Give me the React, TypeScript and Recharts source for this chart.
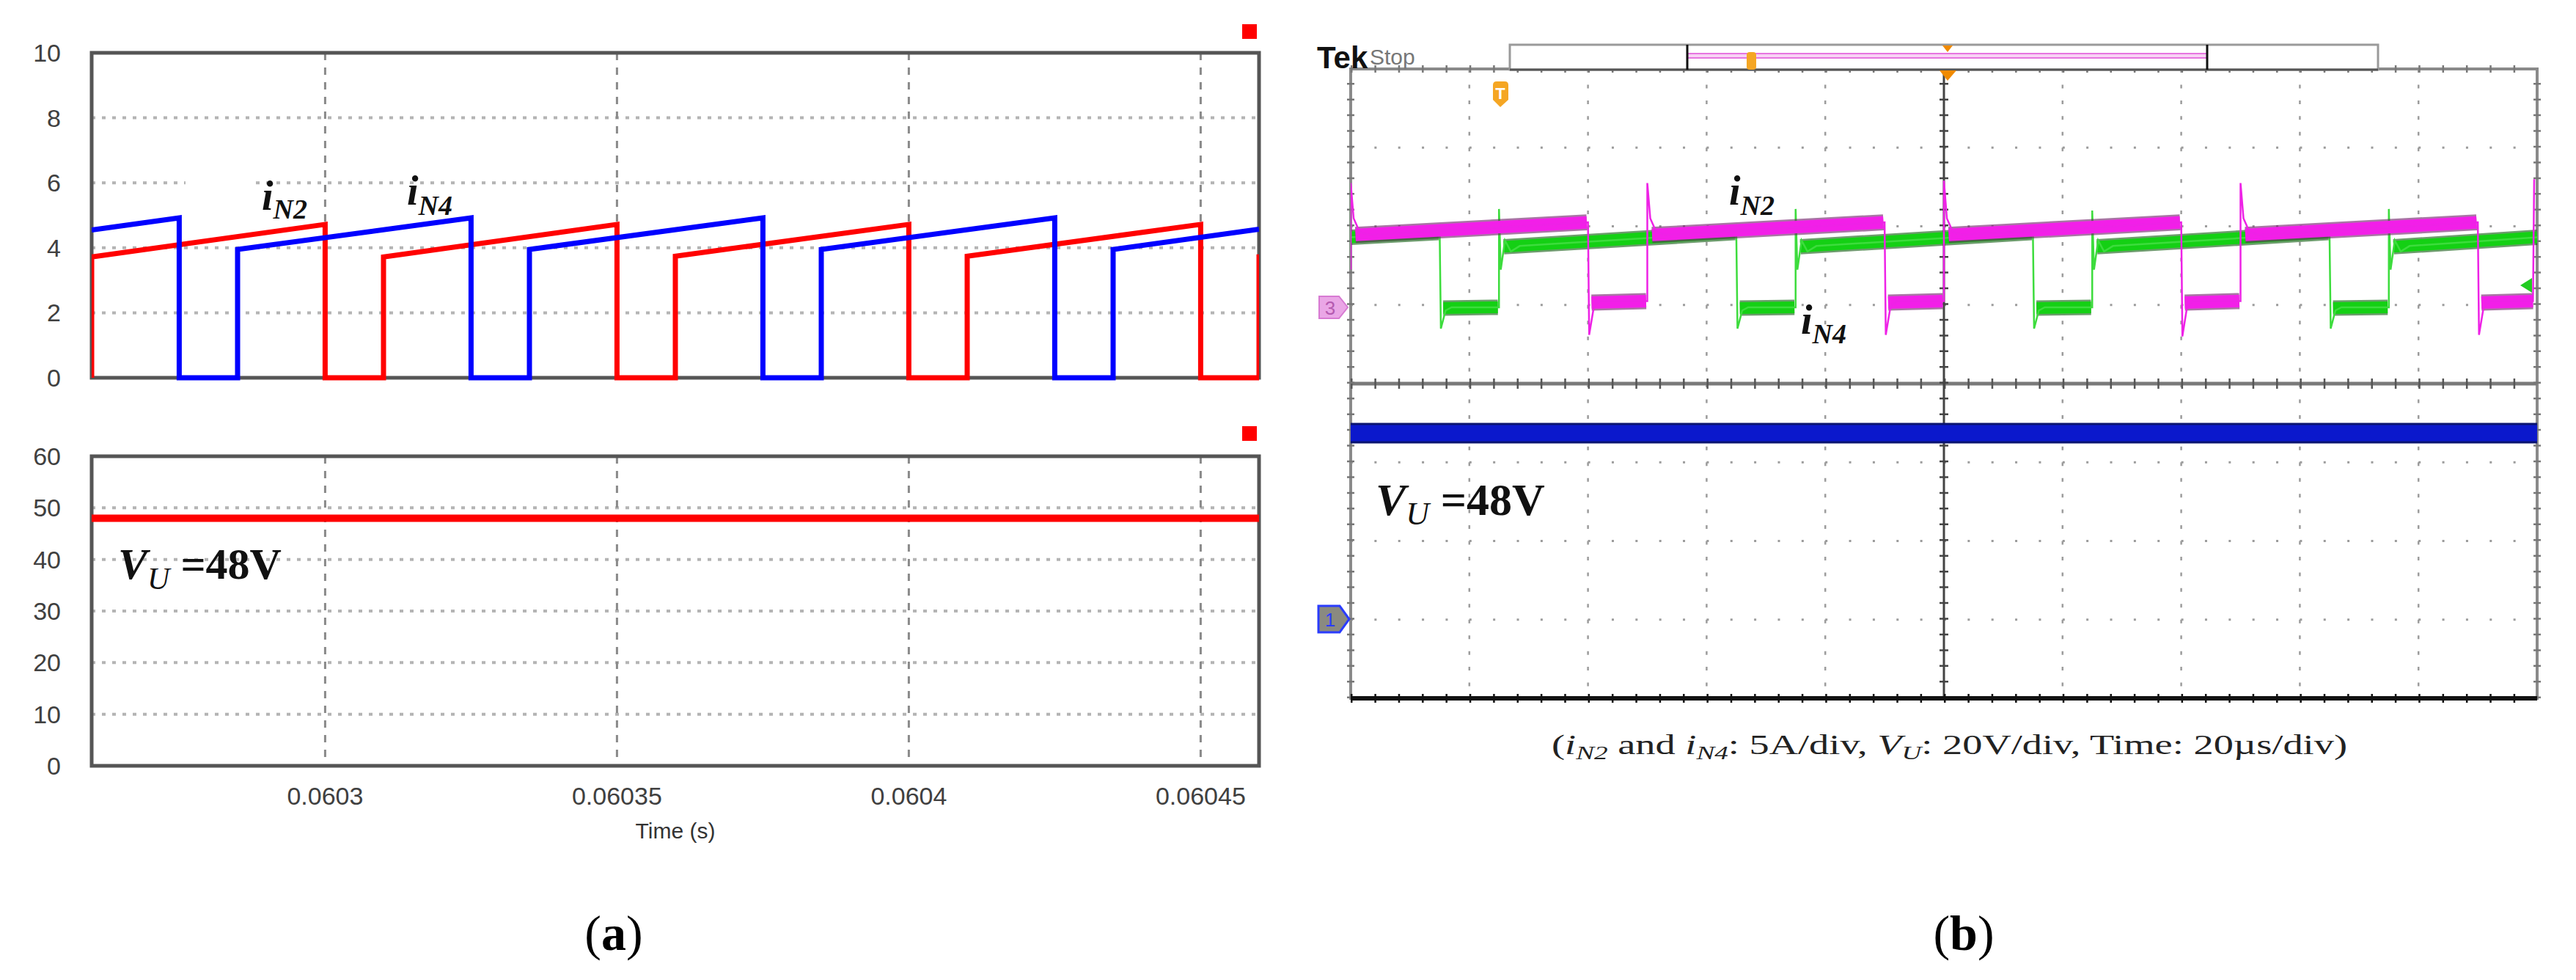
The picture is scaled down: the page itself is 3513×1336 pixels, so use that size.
import React from "react";
import {
  CartesianGrid,
  Line,
  LineChart,
  ReferenceArea,
  ReferenceLine,
  XAxis,
  YAxis,
} from "recharts";

// ---------- (a) simulation, time in seconds ----------
const SIM_T_MIN = 0.06026;
const SIM_T_MAX = 0.06046;
const SIM_T_TICKS = [0.0603, 0.06035, 0.0604, 0.06045];
const SIM_I_TICKS = [0, 2, 4, 6, 8, 10];
const SIM_V_TICKS = [0, 10, 20, 30, 40, 50, 60];

// iN2 (red): corners of the waveform [t, A]
const SIM_N2: [number, number][] = [
  [0.06026, 0], [0.06026, 3.72], [0.0603, 4.72], [0.0603, 0],
  [0.06031, 0], [0.06031, 3.72], [0.06035, 4.72], [0.06035, 0],
  [0.06036, 0], [0.06036, 3.74], [0.0604, 4.72], [0.0604, 0],
  [0.06041, 0], [0.06041, 3.74], [0.06045, 4.72], [0.06045, 0],
  [0.06046, 0], [0.06046, 3.8],
];
// iN4 (blue)
const SIM_N4: [number, number][] = [
  [0.06026, 4.55], [0.060275, 4.92], [0.060275, 0],
  [0.060285, 0], [0.060285, 3.95], [0.060325, 4.92], [0.060325, 0],
  [0.060335, 0], [0.060335, 3.95], [0.060375, 4.92], [0.060375, 0],
  [0.060385, 0], [0.060385, 3.95], [0.060425, 4.92], [0.060425, 0],
  [0.060435, 0], [0.060435, 3.95], [0.06046, 4.57],
];
// VU (red, bottom plot)
const SIM_VU: [number, number][] = [
  [0.06026, 48], [0.06046, 48],
];

// ---------- (b) scope, time in µs (20 µs/div), level in screen divisions ----------
const SCOPE_T_MIN = 0;
const SCOPE_T_MAX = 200;
const SCOPE_GRID_T = [20, 40, 60, 80, 120, 140, 160, 180];
const SCOPE_GRID_Y = [-3, -2, -1, 1, 2, 3];

// channel 3, iN2 (magenta): thin trace with edges and ringing
const CH3_TRACE: [number, number][] = [
  [0, 1.45], [0, 2.55], [0.5, 2.1], [1.5, 1.93], [3, 1.89], [40, 2.05],
  [40.2, 0.62], [41, 0.98], [42, 1.05], [50, 1.05],
  [50, 2.55], [50.5, 2.1], [51.5, 1.93], [53, 1.89], [90, 2.05],
  [90.2, 0.62], [91, 0.98], [92, 1.05], [100, 1.05],
  [100, 2.58], [100.5, 2.1], [101.5, 1.93], [103, 1.89], [140, 2.05],
  [140.2, 0.6], [141, 0.98], [142, 1.05], [150, 1.05],
  [150, 2.55], [150.5, 2.1], [151.5, 1.93], [153, 1.89], [190, 2.05],
  [190.2, 0.62], [191, 0.98], [192, 1.05], [199.3, 1.05], [199.5, 2.6],
];
// channel 3 noise band (null breaks the band at each edge)
const CH3_BAND: [number, number | null][] = [
  [0.8, 1.89], [39.8, 2.05], [40.2, null], [40.6, 1.03], [49.8, 1.05], [50.2, null],
  [50.8, 1.89], [89.8, 2.05], [90.2, null], [90.6, 1.03], [99.8, 1.05], [100.2, null],
  [100.8, 1.89], [139.8, 2.05], [140.2, null], [140.6, 1.03], [149.8, 1.05], [150.2, null],
  [150.8, 1.89], [189.8, 2.05], [190.2, null], [190.6, 1.03], [199.3, 1.05],
];

// channel 2, iN4 (green)
const CH2_TRACE: [number, number][] = [
  [0, 1.86], [15, 1.92], [15.2, 0.7], [16, 0.93], [17, 0.97], [25, 0.97],
  [25, 2.22], [25.3, 1.45], [26, 1.82], [27, 1.68], [28.5, 1.75], [65, 1.92],
  [65.2, 0.7], [66, 0.93], [67, 0.97], [75, 0.97],
  [75, 2.22], [75.3, 1.45], [76, 1.82], [77, 1.68], [78.5, 1.75], [115, 1.92],
  [115.2, 0.7], [116, 0.93], [117, 0.97], [125, 0.97],
  [125, 2.2], [125.3, 1.45], [126, 1.82], [127, 1.68], [128.5, 1.75], [165, 1.92],
  [165.2, 0.7], [166, 0.93], [167, 0.97], [175, 0.97],
  [175, 2.22], [175.3, 1.45], [176, 1.82], [177, 1.68], [178.5, 1.75], [200, 1.86],
];
const CH2_BAND: [number, number | null][] = [
  [0, 1.86], [14.8, 1.92], [15.2, null], [15.6, 0.96], [24.8, 0.97], [25.2, null],
  [25.8, 1.74], [64.8, 1.92], [65.2, null], [65.6, 0.96], [74.8, 0.97], [75.2, null],
  [75.8, 1.74], [114.8, 1.92], [115.2, null], [115.6, 0.96], [124.8, 0.97], [125.2, null],
  [125.8, 1.74], [164.8, 1.92], [165.2, null], [165.6, 0.96], [174.8, 0.97], [175.2, null],
  [175.8, 1.74], [200, 1.86],
];

// channel 1, VU (blue), ground marker at -3 div, 20 V/div
const CH1_BAND: [number, number][] = [
  [0, -0.63], [200, -0.63],
];

const SERIF = "'Liberation Serif', 'Times New Roman', serif";
const SANS = "'Liberation Sans', Arial, sans-serif";
const TICK = { fill: "#404040", fontSize: 34, fontFamily: SANS };

const pts = (rows: [number, number | null][]) => rows.map(([t, y]) => ({ t, y }));

// scope screen size (px) -> minor tick spacing for dotted graticule
const SCOPE_W = 1618;
const SCOPE_H = 858;
const MINOR_X = SCOPE_W / 50;
const MINOR_Y = SCOPE_H / 40;

function SimCurrents() {
  return (
    <LineChart width={1760} height={560} margin={{ top: 72, right: 43, bottom: 45, left: 0 }}>
      <XAxis type="number" dataKey="t" domain={[SIM_T_MIN, SIM_T_MAX]} ticks={SIM_T_TICKS} allowDataOverflow hide />
      <YAxis
        type="number"
        domain={[0, 10]}
        ticks={SIM_I_TICKS}
        interval={0}
        width={125}
        tick={TICK}
        tickLine={false}
        axisLine={false}
        tickMargin={36}
      />
      <CartesianGrid horizontalValues={SIM_I_TICKS} vertical={false} stroke="#b4b4b4" strokeWidth={4} strokeDasharray="5 9" />
      <CartesianGrid verticalValues={SIM_T_TICKS} horizontal={false} stroke="#8a8a8a" strokeWidth={3} strokeDasharray="10 10" />
      <ReferenceArea x1={SIM_T_MIN} x2={SIM_T_MAX} y1={0} y2={10} fillOpacity={0} stroke="#555" strokeWidth={5} ifOverflow="visible" />
      <Line data={pts(SIM_N2)} dataKey="y" type="linear" stroke="#ff0000" strokeWidth={7} dot={false} activeDot={false} isAnimationActive={false} />
      <Line data={pts(SIM_N4)} dataKey="y" type="linear" stroke="#0000ff" strokeWidth={7} dot={false} activeDot={false} isAnimationActive={false} />
    </LineChart>
  );
}

function SimVoltage() {
  return (
    <LineChart width={1760} height={600} margin={{ top: 62, right: 43, bottom: 0, left: 0 }}>
      <XAxis
        type="number"
        dataKey="t"
        domain={[SIM_T_MIN, SIM_T_MAX]}
        ticks={SIM_T_TICKS}
        interval={0}
        allowDataOverflow
        height={116}
        tick={TICK}
        tickFormatter={(v: number) => String(v)}
        tickLine={false}
        axisLine={false}
        tickMargin={23}
        label={{ value: "Time (s)", position: "insideBottom", offset: 17, fill: "#333", fontSize: 30, fontFamily: SANS }}
      />
      <YAxis
        type="number"
        domain={[0, 60]}
        ticks={SIM_V_TICKS}
        interval={0}
        width={125}
        tick={TICK}
        tickLine={false}
        axisLine={false}
        tickMargin={36}
      />
      <CartesianGrid horizontalValues={SIM_V_TICKS} vertical={false} stroke="#b4b4b4" strokeWidth={4} strokeDasharray="5 9" />
      <CartesianGrid verticalValues={SIM_T_TICKS} horizontal={false} stroke="#8a8a8a" strokeWidth={3} strokeDasharray="10 10" />
      <ReferenceArea x1={SIM_T_MIN} x2={SIM_T_MAX} y1={0} y2={60} fillOpacity={0} stroke="#555" strokeWidth={5} ifOverflow="visible" />
      <Line data={pts(SIM_VU)} dataKey="y" type="linear" stroke="#ff0000" strokeWidth={10} dot={false} activeDot={false} isAnimationActive={false} />
    </LineChart>
  );
}

function Scope() {
  const edgeTicksV = `2.5 ${MINOR_Y - 2.5}`;
  const edgeTicksH = `2.5 ${MINOR_X - 2.5}`;
  return (
    <LineChart width={1763} height={1000} margin={{ top: 94, right: 53, bottom: 48, left: 92 }}>
      <XAxis type="number" dataKey="t" domain={[SCOPE_T_MIN, SCOPE_T_MAX]} allowDataOverflow hide />
      <YAxis type="number" domain={[-4, 4]} allowDataOverflow hide />
      <CartesianGrid horizontalValues={SCOPE_GRID_Y} vertical={false} stroke="#9c9c9c" strokeWidth={3} strokeDasharray={`3 ${MINOR_X - 3}`} />
      <CartesianGrid verticalValues={SCOPE_GRID_T} horizontal={false} stroke="#9c9c9c" strokeWidth={2.5} strokeDasharray={`5 ${MINOR_Y - 5}`} />
      <ReferenceArea x1={SCOPE_T_MIN} x2={SCOPE_T_MAX} y1={-4} y2={4} fillOpacity={0} stroke="#8a8a8a" strokeWidth={4} ifOverflow="visible" />
      <ReferenceLine y={0} stroke="#7a7a7a" strokeWidth={5} />
      <ReferenceLine y={0} stroke="#555" strokeWidth={14} strokeDasharray={edgeTicksH} />
      <ReferenceLine x={100} stroke="#444" strokeWidth={3} />
      <ReferenceLine x={100} stroke="#444" strokeWidth={12} strokeDasharray={edgeTicksV} />
      <ReferenceLine x={0} stroke="#777" strokeWidth={10} strokeDasharray={edgeTicksV} />
      <ReferenceLine x={200} stroke="#777" strokeWidth={10} strokeDasharray={edgeTicksV} />
      <ReferenceLine y={4} stroke="#777" strokeWidth={10} strokeDasharray={edgeTicksH} />
      <ReferenceLine y={-4} stroke="#111" strokeWidth={6} />
      <ReferenceLine y={-4} stroke="#111" strokeWidth={12} strokeDasharray={edgeTicksH} />

      <Line data={pts(CH1_BAND)} dataKey="y" type="linear" stroke="#0a1470" strokeWidth={28} dot={false} activeDot={false} isAnimationActive={false} />
      <Line data={pts(CH1_BAND)} dataKey="y" type="linear" stroke="#0b18cc" strokeWidth={22} dot={false} activeDot={false} isAnimationActive={false} />

      <Line data={pts(CH2_BAND)} dataKey="y" type="linear" stroke="#0b5a0b" strokeWidth={21} strokeOpacity={0.6} dot={false} activeDot={false} isAnimationActive={false} />
      <Line data={pts(CH2_BAND)} dataKey="y" type="linear" stroke="#14d014" strokeWidth={16} dot={false} activeDot={false} isAnimationActive={false} />
      <Line data={pts(CH2_TRACE)} dataKey="y" type="linear" stroke="#3ddc3d" strokeWidth={2.5} dot={false} activeDot={false} isAnimationActive={false} />

      <Line data={pts(CH3_BAND)} dataKey="y" type="linear" stroke="#6e1a68" strokeWidth={22} strokeOpacity={0.6} dot={false} activeDot={false} isAnimationActive={false} />
      <Line data={pts(CH3_BAND)} dataKey="y" type="linear" stroke="#f21fe8" strokeWidth={17} dot={false} activeDot={false} isAnimationActive={false} />
      <Line data={pts(CH3_TRACE)} dataKey="y" type="linear" stroke="#ee22e6" strokeWidth={2.5} dot={false} activeDot={false} isAnimationActive={false} />
    </LineChart>
  );
}

function Overlay() {
  const sub = (size: number) => ({ fontSize: size });
  return (
    <svg width={3513} height={1336} style={{ position: "absolute", left: 0, top: 0, pointerEvents: "none" }}>
      {/* simulator legend squares */}
      <rect x={1694} y={33} width={20} height={20} fill="#ff0000" />
      <rect x={1694} y={581} width={20} height={20} fill="#ff0000" />

      {/* (a) labels; the original label box leaves a gap in the 6 A gridline */}
      <rect x={253} y={243} width={90} height={12} fill="#fff" />
      <text x={357} y={286} fontFamily={SERIF} fontWeight="bold" fontStyle="italic" fontSize={56} fill="#111">
        i<tspan {...sub(38)} dy={12}>N2</tspan>
      </text>
      <text x={555} y={279} fontFamily={SERIF} fontWeight="bold" fontStyle="italic" fontSize={56} fill="#111">
        i<tspan {...sub(38)} dy={14}>N4</tspan>
      </text>
      <text x={161} y={789} fontFamily={SERIF} fontWeight="bold" fontSize={60} fill="#111">
        <tspan fontStyle="italic">V</tspan>
        <tspan fontStyle="italic" fontWeight="normal" fontSize={42} dy={14}>U</tspan>
        <tspan dy={-14}>{" =48V"}</tspan>
      </text>

      {/* scope header */}
      <text x={1796} y={93} fontFamily={SANS} fontWeight="bold" fontSize={42} fill="#111">Tek</text>
      <text x={1868} y={88} fontFamily={SANS} fontSize={30} fill="#777">Stop</text>
      <rect x={2059} y={61} width={1184} height={34} fill="#fff" stroke="#9a9a9a" strokeWidth={3} />
      <line x1={2059} y1={95} x2={3243} y2={95} stroke="#555" strokeWidth={3} />
      <rect x={2301} y={73} width={709} height={6} fill="#f8d2f4" stroke="#e050d8" strokeWidth={1.5} />
      <line x1={2301} y1={61} x2={2301} y2={95} stroke="#111" strokeWidth={3} />
      <line x1={3010} y1={61} x2={3010} y2={95} stroke="#111" strokeWidth={3} />
      <rect x={2382} y={71} width={13} height={24} rx={4} fill="#f5a623" />
      <path d="M2649,62 L2663,62 L2656,71 Z" fill="#f08a00" />
      <path d="M2645,96 L2668,96 L2656,110 Z" fill="#f08a00" />

      {/* trigger marker */}
      <path d="M2036,116 Q2036,111 2041,111 L2052,111 Q2057,111 2057,116 L2057,136 L2046,146 L2036,136 Z" fill="#f5a623" />
      <text x={2046} y={135} textAnchor="middle" fontFamily={SANS} fontWeight="bold" fontSize={22} fill="#fff">T</text>

      {/* channel markers */}
      <path d="M1799,404 L1826,404 L1838,419 L1826,434 L1799,434 Z" fill="#eaa6e6" stroke="#d77ad2" strokeWidth={2} />
      <text x={1814} y={429} textAnchor="middle" fontFamily={SANS} fontSize={26} fill="#b55ab0">3</text>
      <path d="M1798,826 L1827,826 L1840,844 L1827,862 L1798,862 Z" fill="#8a8a80" stroke="#2a3cff" strokeWidth={3} />
      <text x={1814} y={854} textAnchor="middle" fontFamily={SANS} fontSize={26} fill="#2a3cff">1</text>
      <path d="M3437,389 L3453,379 L3453,399 Z" fill="#22cc22" />

      {/* (b) labels */}
      <text x={2358} y={279} fontFamily={SERIF} fontWeight="bold" fontStyle="italic" fontSize={56} fill="#111">
        i<tspan {...sub(38)} dy={14}>N2</tspan>
      </text>
      <text x={2456} y={455} fontFamily={SERIF} fontWeight="bold" fontStyle="italic" fontSize={56} fill="#111">
        i<tspan {...sub(38)} dy={13}>N4</tspan>
      </text>
      <text x={1876} y={702} fontFamily={SERIF} fontWeight="bold" fontSize={62} fill="#111">
        <tspan fontStyle="italic">V</tspan>
        <tspan fontStyle="italic" fontWeight="normal" fontSize={44} dy={13}>U</tspan>
        <tspan dy={-13}>{" =48V"}</tspan>
      </text>

      {/* caption */}
      <text x={2116} y={1028} fontFamily={SERIF} fontSize={38} fill="#222" textLength={1085} lengthAdjust="spacingAndGlyphs">
        {"("}
        <tspan fontStyle="italic">i</tspan>
        <tspan fontStyle="italic" fontSize={26} dy={7}>N2</tspan>
        <tspan dy={-7}>{" and "}</tspan>
        <tspan fontStyle="italic">i</tspan>
        <tspan fontStyle="italic" fontSize={26} dy={7}>N4</tspan>
        <tspan dy={-7}>{": 5A/div, "}</tspan>
        <tspan fontStyle="italic">V</tspan>
        <tspan fontStyle="italic" fontSize={26} dy={7}>U</tspan>
        <tspan dy={-7}>{": 20V/div, Time: 20µs/div)"}</tspan>
      </text>

      {/* panel letters */}
      <text x={837} y={1295} textAnchor="middle" fontFamily={SERIF} fontSize={68} fill="#000">
        (<tspan fontWeight="bold">a</tspan>)
      </text>
      <text x={2678} y={1295} textAnchor="middle" fontFamily={SERIF} fontSize={68} fill="#000">
        (<tspan fontWeight="bold">b</tspan>)
      </text>
    </svg>
  );
}

export default function App() {
  return (
    <div style={{ position: "absolute", left: 0, top: 0, width: 3513, height: 1336, background: "#fff", overflow: "hidden" }}>
      <div style={{ position: "absolute", left: 0, top: 0 }}>
        <SimCurrents />
      </div>
      <div style={{ position: "absolute", left: 0, top: 560 }}>
        <SimVoltage />
      </div>
      <div style={{ position: "absolute", left: 1750, top: 0 }}>
        <Scope />
      </div>
      <Overlay />
    </div>
  );
}
